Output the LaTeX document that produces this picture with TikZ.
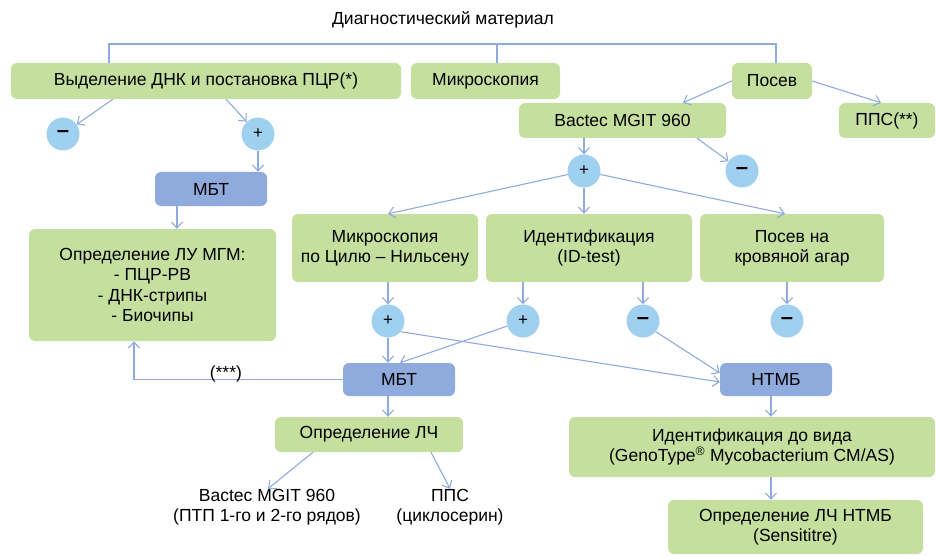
\documentclass[tikz,border=0pt]{standalone}
\usepackage{fontspec}
\setmainfont{Liberation Sans}
\usetikzlibrary{arrows.meta}
\definecolor{grn}{HTML}{C5E09E}
\definecolor{blu}{HTML}{8FAADC}
\definecolor{sky}{HTML}{A0D0F0}
\tikzset{
  box/.style = {align=center, inner sep=0pt, rounded corners=6pt,
    font=\fontsize{17.5}{20.3}\selectfont},
  gn/.style = {box, fill=grn},% green box
  bn/.style = {box, fill=blu},% blue box (МБТ / НТМБ)
  cn/.style = {circle, fill=sky, inner sep=0pt, minimum size=33pt,
    font=\fontsize{17}{18}\selectfont},% +/- circle
  tx/.style = {align=center, inner sep=0pt,
    font=\fontsize{17.5}{20.3}\selectfont},% plain text
  ln/.style = {draw=blu, line width=1.1pt}
}
\newcommand{\mn}{{\fontsize{22}{22}\selectfont\textbf{–}}}% minus sign

\begin{document}
\begin{tikzpicture}[->,>={Straight Barb[length=6pt,width=11pt]},x=1pt,y=-1pt]
\useasboundingbox (0,0) rectangle (936,556);
% top row
\node [tx] (title) at (443,20) {Диагностический материал};
\coordinate (br) at (443,44);
\node [gn, minimum width=390pt, minimum height=36pt] (dna) at (206,81) {Выделение ДНК и постановка ПЦР(*)};
\node [gn, minimum width=149pt, minimum height=36pt] (micro) at (485.5,81) {Микроскопия};
\node [gn, minimum width=80pt, minimum height=36pt] (sow) at (772,81) {Посев};
\node [gn, minimum width=207pt, minimum height=35pt] (bactec) at (622.5,120.5) {Bactec MGIT 960};
\node [gn, minimum width=96pt, minimum height=35pt] (pps) at (887,120.5) {ППС(**)};
% results
\node [cn] (m1) at (63,134) {\mn};
\node [cn] (p1) at (258,134) {+};
\node [bn, minimum width=112pt, minimum height=34pt] (mbt1) at (211,189) {МБТ};
\node [cn] (p2) at (584,171) {+};
\node [cn] (m2) at (742,171) {\mn};
% middle row
\node [gn, minimum width=247pt, minimum height=112pt] (lu) at (152.5,285) {Определение ЛУ МГМ:\\- ПЦР-РВ\\- ДНК-стрипы\\- Биочипы};
\node [gn, minimum width=186pt, minimum height=68pt] (zn) at (385,248) {Микроскопия\\по Цилю – Нильсену};
\node [gn, minimum width=206pt, minimum height=68pt] (id) at (589,248) {Идентификация\\(ID-test)};
\node [gn, minimum width=184pt, minimum height=68pt] (blood) at (792,248) {Посев на\\кровяной агар};
\node [cn] (p3) at (388,321) {+};
\node [cn] (p4) at (523,321) {+};
\node [cn] (m3) at (643,321) {\mn};
\node [cn] (m4) at (787,321) {\mn};
\node [bn, minimum width=112pt, minimum height=33pt] (mbt2) at (399,379.5) {МБТ};
\node [bn, minimum width=112pt, minimum height=33pt] (ntmb) at (776,379.5) {НТМБ};
% bottom
\node [gn, minimum width=188pt, minimum height=35pt] (lch) at (369,434.5) {Определение ЛЧ};
\node [tx] (bt) at (267,507) {Bactec MGIT 960\\(ПТП 1-го и 2-го рядов)};
\node [tx] (ppst) at (450,507) {ППС\\(циклосерин)};
\node [gn, minimum width=366pt, minimum height=60pt] (idv) at (752,447) {Идентификация до вида\\(GenoType\textsuperscript{®} Mycobacterium CM/AS)};
\node [gn, minimum width=255pt, minimum height=54pt] (lchn) at (795.5,527) {Определение ЛЧ НТМБ\\(Sensititre)};

% connectors
\draw [ln,-] ([xshift=-97pt]dna.north) |- (br) -| ([xshift=4pt]sow.north);
\draw [ln,-] ([xshift=11.5pt]micro.north) -- ([xshift=11.5pt]micro.north |- br);
\draw [ln] ([xshift=-93pt]dna.south) -- (m1);
\draw [ln] ([xshift=20pt]dna.south) -- (p1);
\draw [ln] (p1.south) -- (p1.south |- mbt1.north);
\draw [ln] ([xshift=-34pt]mbt1.south) -- ([xshift=-34pt]mbt1.south |- lu.north);
\draw [ln] (sow.west) -- ([xshift=60.5pt]bactec.north);
\draw [ln] (sow.east) -- ([xshift=-6pt]pps.north);
\draw [ln] (p2.north |- bactec.south) -- (p2);
\draw [ln] ([xshift=74.5pt]bactec.south) -- (m2);
\draw [ln] (p2) -- ([xshift=3pt]zn.north);
\draw [ln] (p2.south) -- (p2.south |- id.north);
\draw [ln] (p2) -- ([xshift=-7pt]blood.north);
\draw [ln] (p3.north |- zn.south) -- (p3);
\draw [ln] (p4.north |- id.south) -- (p4);
\draw [ln] (m3.north |- id.south) -- (m3);
\draw [ln] (m4.north |- blood.south) -- (m4);
\draw [ln] (p3.south) -- (p3.south |- mbt2.north);
\draw [ln] (p3.-40) -- ([yshift=-2.5pt]ntmb.west);
\draw [ln] (p4.198) -- ([xshift=1pt]mbt2.north);
\draw [ln] (m3.-40) -- ([yshift=6.5pt]ntmb.west);
\draw [ln] (mbt2.west) -| ([xshift=-18.5pt]lu.south)
  node [pos=0.28, above, inner sep=0pt, yshift=-3pt, black, font=\fontsize{17.5}{20}\selectfont] {(***)};
\draw [ln] ([xshift=-11pt]mbt2.south) -- ([xshift=-11pt]mbt2.south |- lch.north);
\draw [ln] ([xshift=-56pt]lch.south) -- ([xshift=1pt]bt.north);
\draw [ln] ([xshift=62pt]lch.south) -- (ppst.north);
\draw [ln] ([xshift=-5pt]ntmb.south) -- ([xshift=-5pt]ntmb.south |- idv.north);
\draw [ln] ([xshift=19pt]idv.south) -- ([xshift=19pt]idv.south |- lchn.north);
\end{tikzpicture}
\end{document}
